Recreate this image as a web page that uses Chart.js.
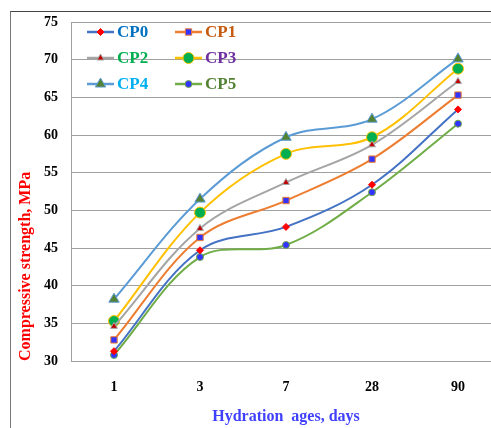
<!DOCTYPE html>
<html>
<head>
<meta charset="utf-8">
<script src="https://cdn.jsdelivr.net/npm/chart.js@4.4.0/dist/chart.umd.min.js"></script>
<style>
  html, body { margin: 0; padding: 0; background: #fff; overflow: hidden; }
  #wrap { position: relative; width: 491px; height: 428px; overflow: hidden; }
  #frame { position: absolute; left: 10px; top: 11px; width: 500px; height: 440px;
           border-top: 1px solid #444; border-left: 1px solid #777; }
  #chart { position: absolute; left: 0; top: 0; }
</style>
</head>
<body>
<div id="wrap">
  <div id="frame"></div>
  <canvas id="chart" width="512" height="428"></canvas>
</div>
<script>
// données
const ages = ['1', '3', '7', '28', '90'];
const cp0 = [31.3, 44.7, 47.8, 53.4, 63.4];
const cp1 = [32.8, 46.4, 51.3, 56.8, 65.3];
const cp2 = [34.6, 47.6, 53.7, 58.7, 67.1];
const cp3 = [35.3, 49.7, 57.5, 59.7, 68.8];
const cp4 = [38.2, 51.5, 59.7, 62.1, 70.1];
const cp5 = [30.8, 43.8, 45.4, 52.4, 61.5];
const yTicks = [30, 35, 40, 45, 50, 55, 60, 65, 70, 75];

const serif = '"Liberation Serif", "Times New Roman", serif';
const legendColors = ['#0070C0', '#C55A11', '#00B050', '#7030A0', '#00B0F0', '#548235'];

function serie(label, data, line, style, radius, fill, border) {
  return {
    label, data,
    borderColor: line, borderWidth: 2, tension: 0.35, fill: false,
    pointStyle: style, pointRadius: radius, pointHoverRadius: radius,
    pointBackgroundColor: fill, pointBorderColor: border, pointBorderWidth: 1
  };
}

// légende maison : 2 colonnes, dans la zone du graphique
const legendPlugin = {
  id: 'cpLegend',
  afterDatasetsDraw(chart) {
    const { ctx, chartArea } = chart;
    chart.data.datasets.forEach((ds, i) => {
      const col = i % 2, row = Math.floor(i / 2);
      const x0 = chartArea.left + (col ? 104 : 16);
      const y = chartArea.top + 10 + row * 26;
      ctx.save();
      ctx.strokeStyle = ds.borderColor;
      ctx.lineWidth = 2.5;
      ctx.beginPath(); ctx.moveTo(x0, y); ctx.lineTo(x0 + 27, y); ctx.stroke();
      ctx.fillStyle = ds.pointBackgroundColor;
      ctx.strokeStyle = ds.pointBorderColor;
      ctx.lineWidth = 1;
      Chart.helpers.drawPoint(ctx, { pointStyle: ds.pointStyle, radius: ds.pointRadius, rotation: 0, borderWidth: 1 }, x0 + 13.5, y);
      ctx.fillStyle = legendColors[i];
      ctx.font = 'bold 17px ' + serif;
      ctx.textBaseline = 'middle';
      ctx.fillText(ds.label, x0 + 30, y + 1);
      ctx.restore();
    });
  }
};

new Chart(document.getElementById('chart'), {
  type: 'line',
  data: {
    labels: ages,
    datasets: [
      serie('CP0', cp0, '#4472C4', 'rectRot', 3.5, '#FF0000', '#FF0000'),
      serie('CP1', cp1, '#ED7D31', 'rect', 4.5, '#3333FF', '#ED7D31'),
      serie('CP2', cp2, '#A5A5A5', 'triangle', 4, '#C00000', '#A5A5A5'),
      serie('CP3', cp3, '#FFC000', 'circle', 5.5, '#00B050', '#FFC000'),
      serie('CP4', cp4, '#5B9BD5', 'triangle', 6, '#548235', '#5B9BD5'),
      serie('CP5', cp5, '#70AD47', 'circle', 3.5, '#3333FF', '#70AD47')
    ]
  },
  options: {
    responsive: false,
    animation: false,
    layout: { padding: { left: 0, right: 11, top: 22, bottom: 0 } },
    plugins: { legend: { display: false }, tooltip: { enabled: false } },
    scales: {
      x: {
        offset: true,
        grid: { display: false },
        border: { display: true, color: '#a0a0a0', width: 1 },
        ticks: { color: '#000', font: { family: serif, size: 14, weight: 'bold' }, padding: 10 },
        title: { display: true, text: 'Hydration  ages, days', color: '#4040FF',
                 font: { family: serif, size: 16, weight: 'bold' }, padding: { top: 0, bottom: 2 } },
        afterFit(scale) { scale.height = 67; }
      },
      y: {
        min: 30, max: 75,
        afterBuildTicks(scale) { scale.ticks = yTicks.map(v => ({ value: v })); },
        grid: { color: '#a0a0a0', lineWidth: 1, drawTicks: false },
        border: { display: true, color: '#a0a0a0', width: 1 },
        ticks: { color: '#000', font: { family: serif, size: 14, weight: 'bold' }, padding: 13 },
        title: { display: true, text: 'Compressive strength, MPa', color: '#FF0000', align: 'start',
                 font: { family: serif, size: 16, weight: 'bold' }, padding: { top: 16, bottom: 0 } },
        afterFit(scale) { scale.width = 71; }
      }
    }
  },
  plugins: [legendPlugin]
});
</script>
</body>
</html>
